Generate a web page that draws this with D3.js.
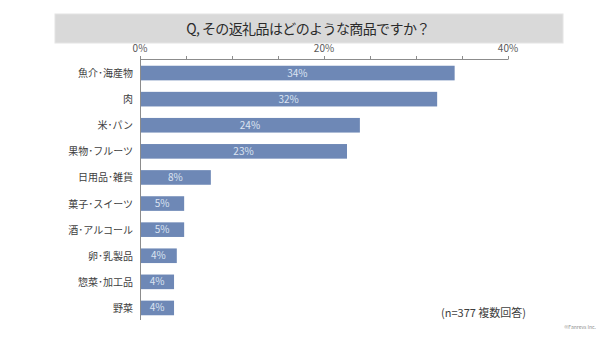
<!DOCTYPE html>
<html>
<head>
<meta charset="utf-8">
<script src="https://cdn.jsdelivr.net/npm/d3@7"></script>
<style>
  body { margin: 0; background: #fff; }
  svg { display: block; font-family: "Noto Sans CJK JP", "Noto Sans", sans-serif; }
</style>
</head>
<body>
<div id="chart"></div>
<script>
// data
var categories = ["魚介・海産物", "肉", "米・パン", "果物・フルーツ", "日用品・雑貨",
                  "菓子・スイーツ", "酒・アルコール", "卵・乳製品", "惣菜・加工品", "野菜"];
var values = [34.2, 32.3, 23.9, 22.5, 7.7, 4.8, 4.8, 4.0, 3.7, 3.7];
var valueLabels = ["34%", "32%", "24%", "23%", "8%", "5%", "5%", "4%", "4%", "4%"];
var tickValues = [0, 20, 40];
var minorTicks = [0, 5, 10, 15, 20, 25, 30, 35, 40];

var width = 600, height = 338;

var svg = d3.select("#chart").append("svg")
            .attr("width", width)
            .attr("height", height);

// title box
svg.append("rect")
   .attr("x", 55).attr("y", 14)
   .attr("width", 508).attr("height", 29)
   .attr("fill", "#d9d9d9")
   .attr("stroke", "#e4e4e4");

svg.append("text")
   .attr("x", 308).attr("y", 34)
   .attr("text-anchor", "middle")
   .attr("font-size", 14)
   .attr("letter-spacing", -0.6)
   .attr("fill", "#2b2b2b")
   .text("Q, その返礼品はどのような商品ですか？");

var x = d3.scaleLinear().domain([0, 40]).range([140, 508]);
var y = d3.scaleBand().domain(categories).range([60, 321]).paddingInner(0.44).paddingOuter(0.22);

// top axis
var axisY = 59.5;
svg.append("line")
   .attr("x1", x(0)).attr("x2", x(40))
   .attr("y1", axisY).attr("y2", axisY)
   .attr("stroke", "#8c8c8c");

svg.selectAll(".tick")
   .data(minorTicks)
   .enter().append("line")
   .attr("class", "tick")
   .attr("x1", function(d) { return Math.round(x(d)) + 0.5; })
   .attr("x2", function(d) { return Math.round(x(d)) + 0.5; })
   .attr("y1", axisY - 3.5).attr("y2", axisY)
   .attr("stroke", "#8c8c8c");

svg.selectAll(".tlabel")
   .data(tickValues)
   .enter().append("text")
   .attr("class", "tlabel")
   .attr("x", function(d) { return x(d); })
   .attr("y", 52)
   .attr("text-anchor", "middle")
   .attr("font-size", 10)
   .attr("fill", "#595959")
   .text(function(d) { return d + "%"; });

// bars
svg.selectAll(".bar")
   .data(values)
   .enter().append("rect")
   .attr("class", "bar")
   .attr("x", x(0))
   .attr("y", function(d, i) { return y(categories[i]); })
   .attr("width", function(d) { return x(d) - x(0); })
   .attr("height", y.bandwidth())
   .attr("fill", "#6e88b6");

svg.selectAll(".vlabel")
   .data(values)
   .enter().append("text")
   .attr("class", "vlabel")
   .attr("x", function(d) { return (x(0) + x(d)) / 2; })
   .attr("y", function(d, i) { return y(categories[i]) + y.bandwidth() / 2 + 3.5; })
   .attr("text-anchor", "middle")
   .attr("font-size", 10)
   .attr("fill", "#dce4f2")
   .text(function(d, i) { return valueLabels[i]; });

// category labels, half-width dot like the original
svg.selectAll(".clabel")
   .data(categories)
   .enter().append("text")
   .attr("class", "clabel")
   .attr("x", 133)
   .attr("y", function(d) { return y(d) + y.bandwidth() / 2 + 4; })
   .attr("text-anchor", "end")
   .attr("font-size", 10)
   .attr("fill", "#404040")
   .text(function(d) { return d.replace(/・/g, "･"); });

// y axis line
svg.append("line")
   .attr("x1", x(0) + 0.5).attr("x2", x(0) + 0.5)
   .attr("y1", axisY).attr("y2", 320)
   .attr("stroke", "#8c8c8c");

// note
svg.append("text")
   .attr("x", 441).attr("y", 317)
   .attr("font-size", 11)
   .attr("fill", "#404040")
   .text("(n=377 複数回答)");

svg.append("text")
   .attr("x", 596).attr("y", 329)
   .attr("text-anchor", "end")
   .attr("font-size", 5)
   .attr("fill", "#8c8c8c")
   .text("©Fanrevs Inc.");
</script>
</body>
</html>
